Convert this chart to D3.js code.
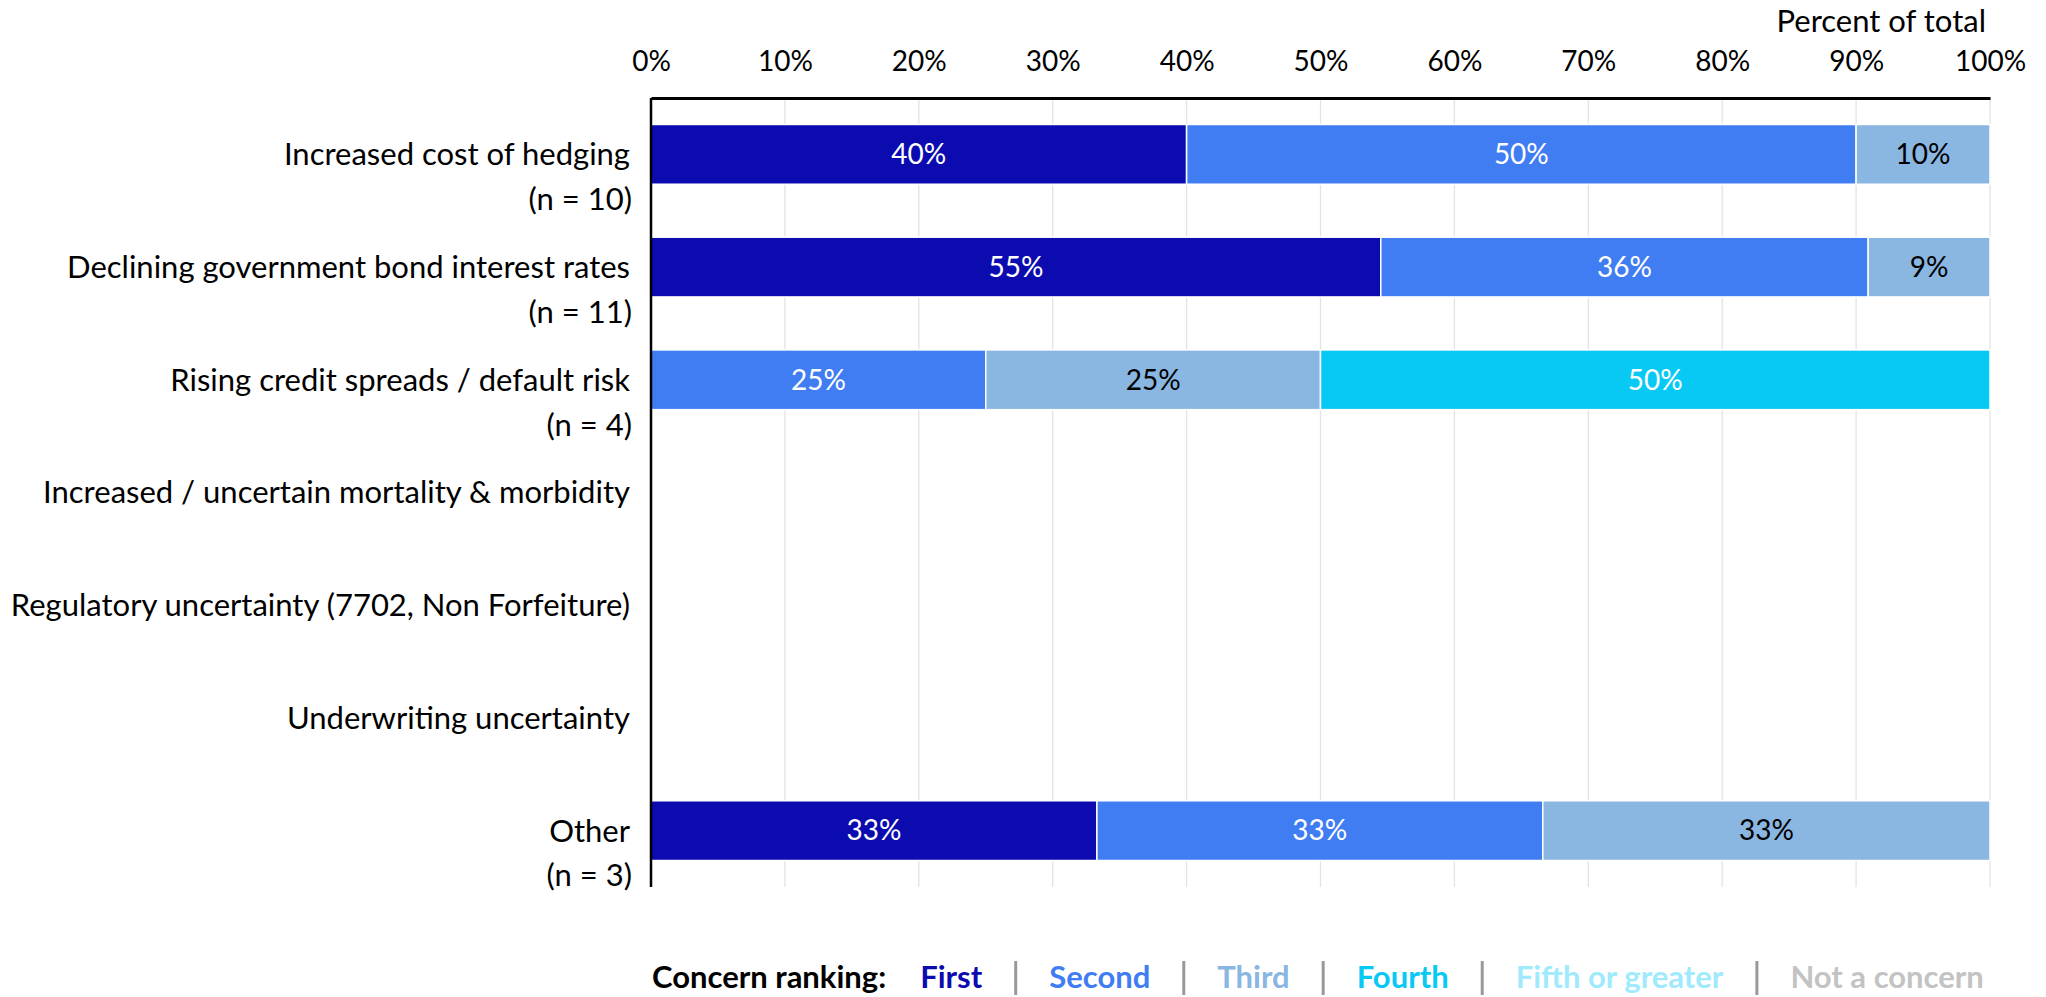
<!DOCTYPE html>
<html>
<head>
<meta charset="utf-8">
<script src="https://cdn.jsdelivr.net/npm/d3@7"></script>
<style>
  html, body { margin: 0; padding: 0; background: #fff; }
  svg { display: block; font-family: Lato, "Open Sans", sans-serif; }
</style>
</head>
<body>
<svg id="chart" width="2046" height="997"></svg>
<script>
// Concerns, top to bottom; the second line carries the respondent count
const categories = [
  "Increased cost of hedging",
  "Declining government bond interest rates",
  "Rising credit spreads / default risk",
  "Increased / uncertain mortality & morbidity",
  "Regulatory uncertainty (7702, Non Forfeiture)",
  "Underwriting uncertainty",
  "Other"
];
const sampleSizes = ["(n = 10)", "(n = 11)", "(n = 4)", "", "", "", "(n = 3)"];

// Share of respondents (percent) by concern ranking
const rankings = ["First", "Second", "Third", "Fourth", "Fifth or greater", "Not a concern"];
const first          = [40, 54.5, 0, 0, 0, 0, 33.3];
const second         = [50, 36.4, 25, 0, 0, 0, 33.3];
const third          = [10, 9.1, 25, 0, 0, 0, 33.4];
const fourth         = [0, 0, 50, 0, 0, 0, 0];
const fifthOrGreater = [0, 0, 0, 0, 0, 0, 0];
const notAConcern    = [0, 0, 0, 0, 0, 0, 0];

const tickValues = [0, 10, 20, 30, 40, 50, 60, 70, 80, 90, 100];

const seriesValues = [first, second, third, fourth, fifthOrGreater, notAConcern];
const colors = ["#0b0bb0", "#417df2", "#8ab6e2", "#08c9f3", "#9feafc", "#c3c3c3"];
const labelColors = ["#fff", "#fff", "#000", "#fff", "#000", "#000"];

const rows = categories.map((c, i) => {
  const r = { category: c };
  rankings.forEach((k, j) => { r[k] = seriesValues[j][i]; });
  return r;
});
const stacked = d3.stack().keys(rankings)(rows);

const svg = d3.select("#chart");
const plotLeft = 651, plotRight = 1990, plotTop = 98, plotBottom = 887;

const x = d3.scaleLinear().domain([0, 100]).range([plotLeft, plotRight]);
const y = d3.scaleBand().domain(categories).range([plotTop, plotBottom])
  .paddingInner(0.47).paddingOuter(0.235);

const numberSize = 28;   // tick and value labels
const textSize = 31;     // category, title and legend text

// vertical gridlines
svg.append("g").selectAll("line").data(tickValues).join("line")
  .attr("x1", d => x(d)).attr("x2", d => x(d))
  .attr("y1", plotTop).attr("y2", plotBottom)
  .attr("stroke", "#e3e3e3").attr("stroke-width", 1.3);

// stacked bars
const layers = svg.append("g").selectAll("g").data(stacked).join("g")
  .attr("fill", (d, i) => colors[i]);

layers.selectAll("rect").data(d => d.filter(s => s[1] - s[0] > 0)).join("rect")
  .attr("x", d => x(d[0]))
  .attr("width", d => x(d[1]) - x(d[0]))
  .attr("y", d => y(d.data.category))
  .attr("height", y.bandwidth())
  .attr("stroke", "#fff").attr("stroke-width", 1.5);

// value labels inside each segment
stacked.forEach((layer, i) => {
  svg.append("g").selectAll("text").data(layer.filter(s => s[1] - s[0] > 0)).join("text")
    .attr("x", d => (x(d[0]) + x(d[1])) / 2)
    .attr("y", d => y(d.data.category) + y.bandwidth() / 2)
    .attr("dy", "0.35em")
    .attr("text-anchor", "middle")
    .attr("font-size", numberSize)
    .attr("fill", labelColors[i])
    .text(d => Math.round(d[1] - d[0]) + "%");
});

// top axis
const axis = svg.append("g").attr("transform", `translate(0,${plotTop})`)
  .call(d3.axisTop(x).tickValues(tickValues).tickSize(0).tickPadding(27)
    .tickFormat(d => d + "%"));
axis.select(".domain").attr("stroke", "#000").attr("stroke-width", 3);
axis.selectAll("text").attr("font-size", numberSize).attr("fill", "#000")
  .attr("font-family", "Lato, 'Open Sans', sans-serif");

// left axis line
svg.append("line").attr("x1", plotLeft).attr("x2", plotLeft)
  .attr("y1", plotTop).attr("y2", plotBottom)
  .attr("stroke", "#000").attr("stroke-width", 2.5);

svg.append("text").attr("x", 1986).attr("y", 32).attr("text-anchor", "end")
  .attr("font-size", textSize).text("Percent of total");

// category labels
const catG = svg.append("g").selectAll("text").data(categories).join("text")
  .attr("text-anchor", "end")
  .attr("font-size", textSize)
  .attr("fill", "#000")
  .attr("transform", d => `translate(630,${y(d) + y.bandwidth() / 2})`);
catG.append("tspan").attr("x", 0).attr("dy", "0.35em").text(d => d);
catG.append("tspan").attr("x", 2).attr("dy", 45)
  .text((d, i) => sampleSizes[i]);

// legend
const legend = svg.append("g").attr("font-weight", "bold").attr("font-size", textSize);
let lx = 652;
const ly = 988;
const title = legend.append("text").attr("x", lx).attr("y", ly).attr("fill", "#000")
  .text("Concern ranking:");
lx += title.node().getComputedTextLength() + 34;
const gap = 67;
rankings.forEach((k, i) => {
  const t = legend.append("text").attr("x", lx).attr("y", ly).attr("fill", colors[i]).text(k);
  lx += t.node().getComputedTextLength();
  if (i < rankings.length - 1) {
    legend.append("line").attr("x1", lx + gap / 2).attr("x2", lx + gap / 2)
      .attr("y1", 961).attr("y2", 995).attr("stroke", "#999").attr("stroke-width", 3);
    lx += gap;
  }
});
</script>
</body>
</html>
